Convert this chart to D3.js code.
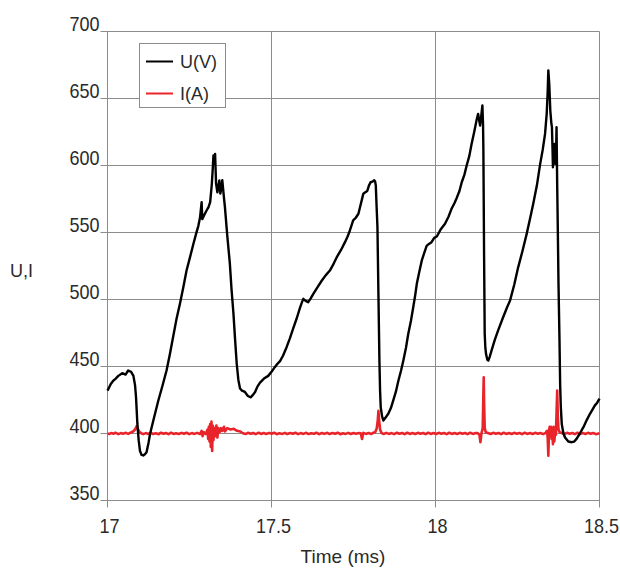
<!DOCTYPE html>
<html>
<head>
<meta charset="utf-8">
<script src="https://cdn.jsdelivr.net/npm/d3@7"></script>
<style>
html,body{margin:0;padding:0;background:#fff;}
svg{display:block;}
text{font-family:"Liberation Sans Narrow","Arial Narrow","Liberation Sans",Arial,sans-serif;fill:#2a2a2a;}
</style>
</head>
<body>
<svg id="chart" width="620" height="570"></svg>
<script>
// ---- data ----
const xTicks = [17, 17.5, 18, 18.5];
const yTicks = [350, 400, 450, 500, 550, 600, 650, 700];
const seriesNames = ["U(V)", "I(A)"];
const seriesColors = ["#000000", "#e8242a"];

// U(V) : [time ms, value]
const uSeries = [
  [17.000,432],[17.010,437],[17.018,439.5],[17.025,441],[17.033,443],[17.045,445],[17.055,444],[17.063,447],
  [17.072,446],[17.079,443],[17.084,436],[17.087,427],[17.091,407.5],[17.095,395],[17.099,387],[17.104,384],
  [17.109,383.6],[17.114,384.5],[17.119,386],[17.125,393],[17.130,400],[17.142,412],[17.155,424.6],[17.168,436],
  [17.180,447],[17.190,459],[17.200,472],[17.210,485],[17.221,497],[17.231,509],[17.241,521.6],[17.252,532],
  [17.262,541.6],[17.270,549],[17.277,555],[17.282,561],[17.285,568],[17.287,572.6],[17.289,560],[17.295,563],
  [17.302,566.4],[17.308,569],[17.313,572.6],[17.318,586],[17.321,598],[17.323,607.5],[17.326,604],[17.328,608.7],
  [17.331,586.5],[17.335,580],[17.338,585],[17.341,588.8],[17.344,579],[17.347,583],[17.350,589],[17.355,576],
  [17.358,569],[17.365,548],[17.373,527],[17.378,508],[17.384,489.5],[17.389,470],[17.394,452],[17.399,440],
  [17.404,433.6],[17.410,432],[17.419,431],[17.428,428],[17.437,427],[17.444,429],[17.450,431],[17.457,435],
  [17.465,438],[17.477,441],[17.490,443],[17.500,446],[17.510,449.5],[17.518,452],[17.526,454],[17.535,458],
  [17.546,464.4],[17.556,471],[17.567,479],[17.577,486],[17.587,494],[17.593,498],[17.597,500.5],[17.604,499],
  [17.612,498],[17.620,501],[17.627,504],[17.640,509],[17.653,514],[17.665,518],[17.678,521.6],[17.690,527],
  [17.699,531.6],[17.712,537],[17.724,542.8],[17.732,547],[17.739,551.5],[17.745,556],[17.749,559],[17.757,561],
  [17.765,564],[17.770,569],[17.775,574],[17.780,579],[17.786,580],[17.792,581],[17.797,585],[17.802,587.5],
  [17.808,588],[17.813,589],[17.816,588],[17.818,585],[17.820,572],[17.823,554],[17.826,504],[17.829,454.5],
  [17.831,432],[17.833,419.6],[17.837,413],[17.841,409.7],[17.848,412],[17.856,414.7],[17.864,419],[17.871,424.6],
  [17.879,431],[17.887,439.6],[17.895,447],[17.902,454.5],[17.910,464],[17.917,474.4],[17.925,484],[17.932,494],
  [17.938,503],[17.943,511.7],[17.950,520],[17.958,529],[17.966,535],[17.973,540],[17.980,541.5],[17.988,542.8],
  [17.996,546],[18.004,547],[18.015,552],[18.029,556.5],[18.040,562],[18.049,567.7],[18.058,572],[18.065,576],
  [18.073,581],[18.080,587.5],[18.088,593],[18.095,600],[18.103,607],[18.110,616],[18.118,625],[18.126,634.8],
  [18.130,638.5],[18.133,634],[18.136,629.8],[18.139,636],[18.143,644.8],[18.145,630],[18.146,611],[18.148,536.6],
  [18.150,474.4],[18.152,464],[18.154,459.5],[18.158,455],[18.161,454.5],[18.165,457],[18.171,462],[18.181,470],
  [18.191,477],[18.205,486],[18.218,494],[18.227,499],[18.240,511],[18.252,524],[18.265,536],[18.278,549],
  [18.288,560],[18.298,571.4],[18.309,585],[18.319,601],[18.327,612],[18.334,623.6],[18.339,638.5],[18.342,655],
  [18.344,671],[18.347,660],[18.350,641],[18.353,632],[18.355,628.6],[18.357,610],[18.358,598.7],[18.360,608],
  [18.362,616],[18.364,605],[18.366,601],[18.368,615],[18.369,628.6],[18.371,586],[18.373,550],[18.375,511.7],
  [18.378,470],[18.380,437],[18.382,420],[18.385,407],[18.390,400],[18.395,397],[18.405,394],[18.415,393.5],
  [18.423,394],[18.430,396],[18.440,400],[18.451,404.7],[18.461,410],[18.471,414.7],[18.479,418],[18.486,421],
  [18.493,423],[18.500,426]
];

// I(A) : [time ms, value]
const iSeries = [
  [17.000,400],[17.006,399.6],[17.011,400.4],[17.019,399.8],[17.024,400.6],[17.033,399.5],[17.041,400.3],[17.047,399.9],
  [17.056,400.5],[17.063,399.7],[17.070,400.6],[17.078,401.5],[17.084,403],[17.089,405.5],[17.093,403],[17.098,401],
  [17.104,400],[17.109,399.5],[17.117,400.3],[17.124,399.7],[17.133,400.5],[17.139,399.6],[17.147,400.2],[17.156,399.5],
  [17.163,400.6],[17.171,399.8],[17.178,400.4],[17.186,399.5],[17.194,400.6],[17.201,399.7],[17.209,400.2],[17.217,399.6],
  [17.226,400.5],[17.233,399.8],[17.241,400.6],[17.249,399.5],[17.257,400.3],[17.265,399.7],[17.273,400.5],[17.282,399.6],
  [17.287,402],[17.290,398],[17.294,401],[17.300,399.5],[17.305,403],
  [17.307,396],[17.309,405],[17.311,394],[17.313,407],[17.315,390],[17.317,409],[17.319,387],[17.321,406],
  [17.323,395],[17.326,404],[17.329,398],[17.332,406],[17.335,397],[17.338,404],[17.342,401],[17.346,404],
  [17.350,402],[17.355,405],[17.358,401.5],[17.365,404],[17.375,403],[17.385,403.5],[17.395,402],[17.405,401.5],
  [17.413,400.2],[17.421,399.6],[17.428,400.5],[17.437,399.8],[17.444,400.4],[17.452,399.5],[17.461,400.6],[17.468,399.7],
  [17.476,400.3],[17.484,399.6],[17.493,400.5],[17.500,399.8],[17.508,400.6],[17.516,399.5],[17.524,400.2],[17.533,399.7],
  [17.541,400.5],[17.548,399.6],[17.557,400.4],[17.565,399.8],[17.573,400.6],[17.581,399.5],[17.589,400.3],[17.597,399.7],
  [17.606,400.5],[17.613,399.6],[17.621,400.2],[17.630,399.8],[17.637,400.6],[17.645,399.5],[17.654,400.4],[17.661,399.7],
  [17.670,400.5],[17.677,399.6],[17.686,400.3],[17.694,399.8],[17.702,400.6],[17.710,399.5],[17.718,400.2],[17.726,399.7],
  [17.734,400.5],[17.742,399.6],[17.750,400.4],[17.758,399.8],[17.766,400.3],
  [17.772,400.2],[17.776,396],[17.780,400.5],[17.788,399.7],[17.796,400.4],[17.804,399.6],[17.810,400.5],[17.816,401],[17.821,404],[17.824,410],
  [17.826,417],[17.828,410],[17.831,403],[17.835,400.5],[17.842,399.6],[17.850,400.5],[17.858,399.7],[17.866,400.3],
  [17.874,399.5],[17.882,400.6],[17.890,399.8],[17.898,400.4],[17.906,399.5],[17.914,400.6],[17.922,399.7],[17.930,400.3],
  [17.938,399.6],[17.946,400.5],[17.954,399.8],[17.962,400.4],[17.970,399.5],[17.978,400.6],[17.986,399.7],[17.994,400.3],
  [18.002,399.6],[18.010,400.5],[18.018,399.8],[18.026,400.4],[18.034,399.5],[18.042,400.6],[18.050,399.7],[18.058,400.3],
  [18.066,399.6],[18.074,400.5],[18.082,399.8],[18.090,400.4],[18.098,399.5],[18.106,400.6],[18.114,399.7],[18.122,400.3],
  [18.128,400.4],
  [18.134,399],[18.137,393.5],[18.140,400],[18.144,404],[18.146,430],[18.147,442],[18.148,425],[18.150,404],
  [18.153,401],[18.160,400.4],[18.168,399.6],[18.176,400.5],[18.184,399.8],[18.192,400.4],[18.200,399.5],[18.208,400.6],
  [18.216,399.7],[18.224,400.3],[18.232,399.6],[18.240,400.5],[18.248,399.8],[18.256,400.4],[18.264,399.5],[18.272,400.6],
  [18.280,399.7],[18.288,400.3],[18.296,399.6],[18.304,400.5],[18.312,399.8],[18.320,400.4],[18.328,399.5],
  [18.336,400.5],[18.340,402],[18.342,397],
  [18.344,383.5],[18.346,402],[18.348,405],[18.350,398],[18.352,405],[18.354,396],[18.356,404],[18.358,392],
  [18.360,405],[18.362,394],[18.365,401],[18.367,399],[18.369,415],[18.371,432],[18.373,412],[18.375,403],
  [18.378,401],[18.385,400.4],[18.393,399.6],[18.401,400.5],[18.409,399.8],[18.417,400.4],[18.425,399.5],[18.433,400.6],
  [18.441,399.7],[18.449,400.3],[18.457,399.6],[18.465,400.5],[18.473,399.8],[18.481,400.4],[18.489,399.5],[18.500,400.2]
];

// ---- chart ----
const svg = d3.select("#chart");
const x = d3.scaleLinear().domain([17, 18.5]).range([107.5, 599.5]);
const y = d3.scaleLinear().domain([350, 700]).range([500.5, 31.5]);
const gridColor = "#8c8c8c";

// horizontal gridlines
svg.append("g").selectAll("line").data(yTicks).join("line")
  .attr("x1", x(17) - 7).attr("x2", x(18.5))
  .attr("y1", d => y(d)).attr("y2", d => y(d))
  .attr("stroke", gridColor).attr("stroke-width", 1);

// vertical gridlines
svg.append("g").selectAll("line").data(xTicks).join("line")
  .attr("x1", d => x(d)).attr("x2", d => x(d))
  .attr("y1", y(700)).attr("y2", y(350) + 7)
  .attr("stroke", gridColor).attr("stroke-width", 1);

// y tick labels (baseline sits on the gridline), condensed look
svg.append("g").selectAll("text").data(yTicks).join("text")
  .attr("transform", d => `translate(${x(17) - 8},${y(d) - 0.5}) scale(0.9,1)`)
  .attr("text-anchor", "end")
  .style("font-size", "20px")
  .text(d => d);

// x tick labels
svg.append("g").selectAll("text").data(xTicks).join("text")
  .attr("transform", d => `translate(${x(d) + 2},533) scale(0.9,1)`)
  .attr("text-anchor", "middle")
  .style("font-size", "20px")
  .text(d => d);

// axis titles
svg.append("text").attr("x", 343).attr("y", 563).attr("text-anchor", "middle")
  .style("font-size", "19px").text("Time (ms)");
svg.append("text").attr("x", 10).attr("y", 277).attr("text-anchor", "start")
  .style("font-size", "18px").text("U,I");

// lines
const line = d3.line().x(d => x(d[0])).y(d => y(d[1]));
svg.append("path").datum(iSeries)
  .attr("fill", "none").attr("stroke", seriesColors[1]).attr("stroke-width", 2.6)
  .attr("stroke-linejoin", "round").attr("d", line);
svg.append("path").datum(uSeries)
  .attr("fill", "none").attr("stroke", seriesColors[0]).attr("stroke-width", 2.4)
  .attr("stroke-linejoin", "round").attr("d", line);

// legend
const lg = svg.append("g");
lg.append("rect").attr("x", 139.5).attr("y", 43.5).attr("width", 86).attr("height", 64)
  .attr("fill", "#fff").attr("stroke", gridColor).attr("stroke-width", 1);
seriesNames.forEach((name, i) => {
  const yy = 61.5 + i * 32;
  lg.append("line").attr("x1", 146).attr("x2", 173).attr("y1", yy).attr("y2", yy)
    .attr("stroke", seriesColors[i]).attr("stroke-width", 2);
  lg.append("text").attr("x", 180).attr("y", yy + 6.5)
    .style("font-size", "18px").text(name);
});
</script>
</body>
</html>
